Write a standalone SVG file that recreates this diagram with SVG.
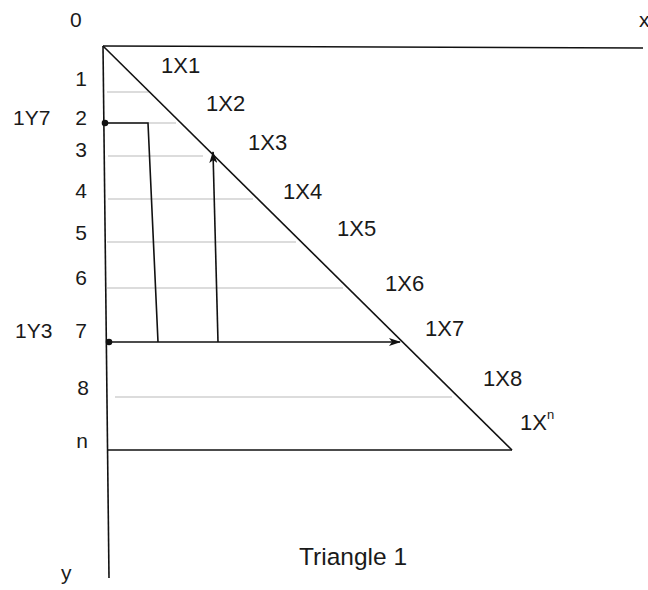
<svg xmlns="http://www.w3.org/2000/svg" width="648" height="590" viewBox="0 0 648 590">
<style>
.t{font-family:"Liberation Sans",Arial,sans-serif;fill:#1a1a1a}
.lab{font-size:21px}
.dl{font-size:22px}
.ln{stroke:#111;stroke-width:1.6;fill:none}
.gr{stroke:#dcdcdc;stroke-width:2;fill:none}
</style>
<defs>
<marker id="ah" viewBox="0 0 12 8" refX="11" refY="4" markerWidth="12" markerHeight="8" markerUnits="userSpaceOnUse" orient="auto">
<path d="M0,0 L12,4 L0,8 L3,4 z" fill="#111"/>
</marker>
</defs>
<rect width="648" height="590" fill="#fff"/>
<g id="grid">
<line class="gr" x1="107" y1="92" x2="149" y2="92"/>
<line class="gr" x1="107" y1="123" x2="176" y2="123"/>
<line class="gr" x1="108" y1="156" x2="203" y2="156"/>
<line class="gr" x1="108" y1="199" x2="253" y2="199"/>
<line class="gr" x1="107" y1="242" x2="296" y2="242"/>
<line class="gr" x1="107" y1="288" x2="343" y2="288"/>
<line class="gr" x1="115" y1="397" x2="452" y2="397"/>
</g>
<g id="axes">
<line class="ln" x1="103" y1="46" x2="643" y2="48"/>
<line class="ln" x1="103" y1="46" x2="109" y2="578"/>
</g>
<g id="triangle">
<line class="ln" x1="103" y1="46" x2="512" y2="450"/>
<line class="ln" x1="108" y1="450" x2="512" y2="450"/>
</g>
<g id="connectors">
<polyline class="ln" points="105,123 148,123 158,342"/>
<line class="ln" x1="109" y1="342" x2="400" y2="342" marker-end="url(#ah)"/>
<line class="ln" x1="218" y1="342" x2="213" y2="152" marker-end="url(#ah)"/>
<circle cx="105" cy="123" r="3.3" fill="#111"/>
<circle cx="109" cy="342" r="3.3" fill="#111"/>
</g>
<g id="labels">
<text class="t lab" x="70" y="27">0</text>
<text class="t lab" x="639" y="27">x</text>
<text class="t lab" x="81" y="86" text-anchor="middle">1</text>
<text class="t lab" x="81" y="125" text-anchor="middle">2</text>
<text class="t lab" x="81" y="157" text-anchor="middle">3</text>
<text class="t lab" x="81" y="198" text-anchor="middle">4</text>
<text class="t lab" x="81" y="240" text-anchor="middle">5</text>
<text class="t lab" x="81" y="285" text-anchor="middle">6</text>
<text class="t lab" x="81" y="338" text-anchor="middle">7</text>
<text class="t lab" x="83" y="395" text-anchor="middle">8</text>
<text class="t lab" x="82" y="448" text-anchor="middle">n</text>
<text class="t lab" x="13" y="125">1Y7</text>
<text class="t lab" x="15" y="338">1Y3</text>
<text class="t lab" x="61" y="580">y</text>
<text class="t" x="299" y="565" font-size="24.5">Triangle 1</text>
</g>
<g id="diag-labels">
<text class="t dl" x="161" y="73">1X1</text>
<text class="t dl" x="206" y="111">1X2</text>
<text class="t dl" x="248" y="150">1X3</text>
<text class="t dl" x="283" y="199">1X4</text>
<text class="t dl" x="337" y="236">1X5</text>
<text class="t dl" x="385" y="291">1X6</text>
<text class="t dl" x="425" y="336">1X7</text>
<text class="t dl" x="483" y="386">1X8</text>
<text class="t dl" x="520" y="430">1X<tspan font-size="13" dy="-11">n</tspan></text>
</g>
</svg>
